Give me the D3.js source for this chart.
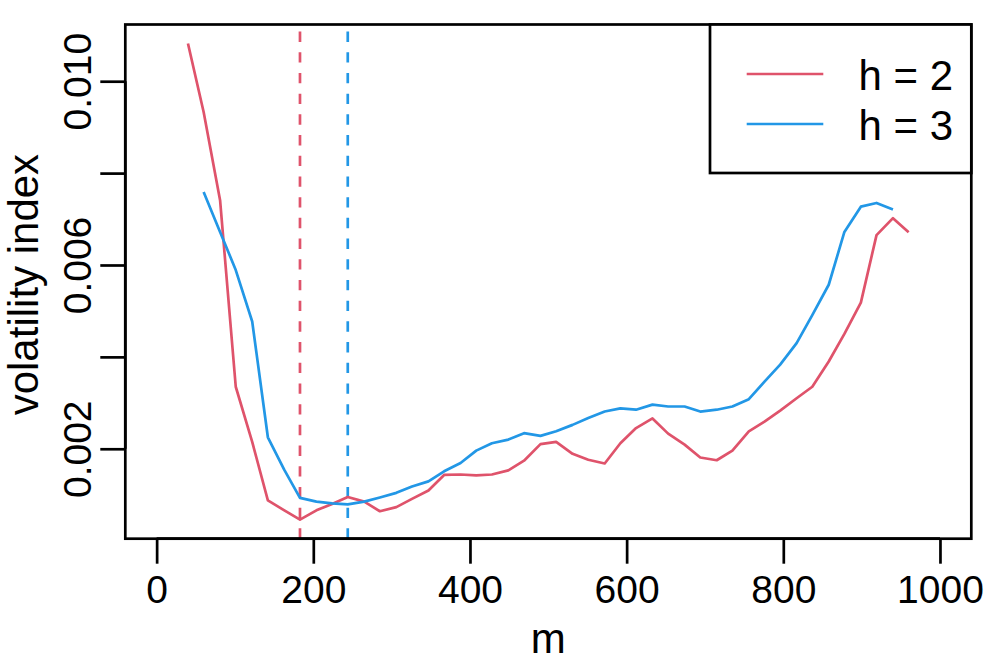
<!DOCTYPE html>
<html>
<head>
<meta charset="utf-8">
<script src="https://cdn.jsdelivr.net/npm/d3@7"></script>
<style>
  html, body { margin: 0; padding: 0; background: #fff; }
  svg { display: block; }
  text { font-family: "Liberation Sans", Arial, Helvetica, sans-serif; fill: #000; }
</style>
</head>
<body>
<svg id="chart" width="997" height="664"></svg>
<script>
// ---- data ----
const mValues = [40,60,81,101,122,142,163,183,204,224,244,265,285,306,326,347,367,388,408,428,449,469,490,510,531,551,572,592,612,633,653,674,694,715,735,756,776,796,817,837,858,878,899,919,940,960];

const h2Values = [0.01082,0.00933,0.00741,0.00335,0.00215,0.000876,0.00066,0.000457,0.00066,0.0008,0.00095,0.00085,0.00064,0.00073,0.00091,0.00109,0.00143,0.00144,0.00142,0.00144,0.00153,0.00174,0.0021,0.00215,0.00189,0.00176,0.00168,0.00212,0.00245,0.00266,0.00233,0.00209,0.00181,0.00175,0.00196,0.00238,0.00259,0.00283,0.0031,0.00335,0.0039,0.0045,0.00518,0.00665,0.00702,0.00671];

// h = 3 starts at the second m value and ends at the second-last
const h3M = mValues.slice(1, 45);
const h3Values = [0.00759,0.00672,0.00589,0.00477,0.00225,0.00154,0.00093,0.00085,0.00081,0.00079,0.00085,0.00094,0.00104,0.00118,0.00129,0.00151,0.00169,0.00196,0.00212,0.0022,0.00234,0.00228,0.00238,0.00252,0.00267,0.00281,0.00288,0.00285,0.00296,0.00292,0.00292,0.00281,0.00285,0.00292,0.00308,0.00346,0.00383,0.0043,0.00491,0.00557,0.00672,0.00727,0.00735,0.00721];

const seriesNames = ["h = 2", "h = 3"];
const seriesColors = ["#DF536B", "#2297E6"];

const xTicks = [0, 200, 400, 600, 800, 1000];
const yTicks = [0.002, 0.004, 0.006, 0.008, 0.010];
const yTickLabels = ["0.002", "", "0.006", "", "0.010"];

const xLimits = [0, 1000];

// ---- layout ----
const W = 997, H = 664;
const plot = { left: 125.3, right: 971.3, top: 24.5, bottom: 538.7 };
const LW = 2.7;
const TICK_FS = 39;

const svg = d3.select("#chart");
svg.append("rect").attr("width", W).attr("height", H).attr("fill", "#fff");

// R-style 4% expansion
function expand(lim) { const r = lim[1] - lim[0]; return [lim[0] - 0.04 * r, lim[1] + 0.04 * r]; }
const allY = h2Values.concat(h3Values);
const x = d3.scaleLinear().domain(expand(xLimits)).range([plot.left, plot.right]);
const y = d3.scaleLinear().domain(expand(d3.extent(allY))).range([plot.bottom, plot.top]);

const series = [
  { name: seriesNames[0], color: seriesColors[0], pts: mValues.map((m, i) => [m, h2Values[i]]) },
  { name: seriesNames[1], color: seriesColors[1], pts: h3M.map((m, i) => [m, h3Values[i]]) }
];

// clip
svg.append("clipPath").attr("id", "clip").append("rect")
  .attr("x", plot.left).attr("y", plot.top)
  .attr("width", plot.right - plot.left).attr("height", plot.bottom - plot.top);

const g = svg.append("g").attr("clip-path", "url(#clip)");

// dashed vertical lines at the minimum of each series
series.forEach(s => {
  const idx = d3.minIndex(s.pts, d => d[1]);
  const mx = s.pts[idx][0];
  g.append("line")
    .attr("x1", x(mx)).attr("x2", x(mx))
    .attr("y1", plot.bottom).attr("y2", plot.top)
    .attr("stroke", s.color).attr("stroke-width", LW)
    .attr("stroke-dasharray", "10.35,10.35");
});

const line = d3.line().x(d => x(d[0])).y(d => y(d[1]));
series.forEach(s => {
  g.append("path").datum(s.pts)
    .attr("d", line).attr("fill", "none")
    .attr("stroke", s.color).attr("stroke-width", LW)
    .attr("stroke-linejoin", "round").attr("stroke-linecap", "butt");
});

// box
svg.append("rect")
  .attr("x", plot.left).attr("y", plot.top)
  .attr("width", plot.right - plot.left).attr("height", plot.bottom - plot.top)
  .attr("fill", "none").attr("stroke", "#000").attr("stroke-width", LW);

// x axis
const xAxis = d3.axisBottom(x).tickValues(xTicks).tickSize(25).tickFormat(d3.format("d"));
const gx = svg.append("g").attr("transform", `translate(0,${plot.bottom})`).call(xAxis);
gx.select(".domain").attr("d", `M${x(xTicks[0])},0H${x(xTicks[xTicks.length-1])}`).attr("stroke-width", LW).attr("stroke", "#000");
gx.selectAll(".tick line").attr("stroke-width", LW).attr("stroke", "#000");
gx.selectAll(".tick text").attr("font-size", TICK_FS).attr("font-family", "Liberation Sans, Arial, sans-serif")
  .attr("fill", "#000").attr("dy", null).attr("y", 64.8);

// y axis
const yAxis = d3.axisLeft(y).tickValues(yTicks).tickSize(25).tickFormat((d, i) => yTickLabels[i]);
const gy = svg.append("g").attr("transform", `translate(${plot.left},0)`).call(yAxis);
gy.select(".domain").attr("d", `M0,${y(yTicks[0])}V${y(yTicks[yTicks.length-1])}`).attr("stroke-width", LW).attr("stroke", "#000");
gy.selectAll(".tick line").attr("stroke-width", LW).attr("stroke", "#000");
gy.selectAll(".tick text")
  .attr("font-size", TICK_FS).attr("font-family", "Liberation Sans, Arial, sans-serif").attr("fill", "#000")
  .attr("x", null).attr("dy", null)
  .attr("text-anchor", "middle")
  .attr("transform", "translate(-34,0) rotate(-90)")
  .attr("y", 0);

// axis titles
svg.append("text").attr("x", (plot.left + plot.right) / 2).attr("y", 653.3)
  .attr("text-anchor", "middle").attr("font-size", 42).text("m");
svg.append("text")
  .attr("transform", `translate(38,${(plot.top + plot.bottom) / 2 + 3}) rotate(-90)`)
  .attr("text-anchor", "middle").attr("font-size", 42).text("volatility index");

// legend
const leg = { left: 710, right: plot.right, top: plot.top, bottom: 173 };
svg.append("rect").attr("x", leg.left).attr("y", leg.top)
  .attr("width", leg.right - leg.left).attr("height", leg.bottom - leg.top)
  .attr("fill", "#fff").attr("stroke", "#000").attr("stroke-width", LW);
series.forEach((s, i) => {
  const ly = 74 + i * 50;
  svg.append("line").attr("x1", 746.7).attr("x2", 823.3).attr("y1", ly).attr("y2", ly)
    .attr("stroke", s.color).attr("stroke-width", LW);
  svg.append("text").attr("x", 858.5).attr("y", ly + 15.5).attr("font-size", 42).text(s.name);
});
</script>
</body>
</html>
